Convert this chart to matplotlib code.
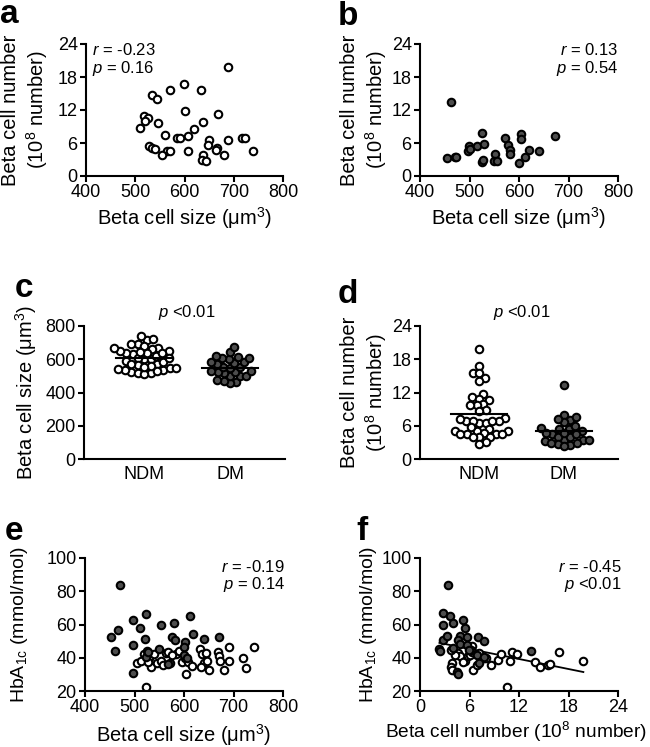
import numpy as np
import matplotlib
matplotlib.use('Agg')
import matplotlib.pyplot as plt

plt.rcParams['font.family'] = ['Liberation Sans', 'DejaVu Sans']
plt.rcParams['mathtext.fontset'] = 'custom'
plt.rcParams['mathtext.rm'] = 'Liberation Sans'
plt.rcParams['mathtext.it'] = 'Liberation Sans:italic'
plt.rcParams['mathtext.bf'] = 'Liberation Sans:bold'

# ---- data ----
# panel a: non-diabetic (NDM) donors, beta cell size vs number
ndm_size = [689, 599, 570, 633, 535, 545, 600, 668, 517, 525, 520, 547, 510, 637,
            620, 560, 585, 591, 607, 649, 689, 717, 723, 527, 533, 541, 647, 667,
            663, 565, 571, 555, 607, 637, 680, 739, 635, 643]
ndm_number = [19.8, 16.8, 15.6, 15.6, 14.7, 14.0, 11.8, 11.2, 10.9, 10.6, 10.0, 9.7,
              8.8, 9.8, 8.6, 7.4, 6.9, 6.9, 7.3, 6.5, 6.5, 6.9, 6.9, 5.4, 5.1, 5.0,
              5.7, 5.1, 4.7, 4.5, 4.5, 3.9, 4.5, 3.9, 3.9, 4.5, 3.0, 2.7]

# panel b: diabetic (DM) donors
dm_size = [463, 455, 470, 473, 498, 497, 500, 515, 525, 530, 525, 527, 551, 550,
           555, 571, 577, 581, 582, 600, 605, 605, 612, 620, 641, 672]
dm_number = [13.4, 3.2, 3.5, 3.4, 5.5, 4.6, 5.0, 5.5, 7.9, 5.9, 2.6, 2.9, 4.0, 2.7,
             2.8, 7.0, 5.6, 4.7, 4.0, 2.3, 7.6, 6.7, 3.5, 4.7, 4.5, 7.2]

# panel e: HbA1c vs beta cell size
e_ndm_size = [523, 506, 514, 519, 530, 533, 539, 545, 553, 558, 563, 568, 584, 590,
              596, 602, 605, 608, 617, 632, 636, 640, 635, 645, 646, 650, 668, 670,
              672, 681, 690, 690, 719, 725, 741, 527, 575]
e_ndm_hba = [22.6, 36.7, 37.9, 42.4, 39.9, 34.7, 42.4, 36.7, 38.1, 35.6, 42.7, 43.7,
             42.3, 44.3, 37.2, 39.7, 30.3, 37.7, 35.2, 45.1, 42.3, 36.7, 34.7, 42.7,
             38.1, 32.7, 43.3, 41.0, 38.1, 32.7, 46.7, 38.1, 40.1, 33.7, 46.7, 37.5, 41.5]
e_dm_size = [471, 524, 612, 497, 580, 553, 512, 467, 452, 521, 576, 581, 619, 641,
             670, 603, 460, 496, 599, 550, 526, 524, 571, 496, 601, 528, 567, 606]
e_dm_hba = [83.5, 66.2, 65.2, 62.8, 60.8, 59.8, 57.8, 56.4, 52.4, 51.2, 52.2, 50.8,
            54.4, 51.2, 52.2, 49.7, 44.3, 47.7, 46.7, 45.3, 44.3, 40.7, 36.7, 31.1,
            41.7, 43.5, 36.0, 40.0]

# panel f: HbA1c vs beta cell number
f_ndm_number = [3.84, 3.76, 3.84, 4.65, 4.86, 5.4, 5.8, 6.3, 6.4, 6.07, 6.9, 7.7, 8.6,
                9.5, 9.8, 10.85, 11.1, 11.8, 10.5, 13.9, 14.6, 15.5, 15.7, 16.8, 19.8,
                4.3, 5.2, 6.35, 7.1, 8.0, 3.8]
f_ndm_hba = [36.8, 34.3, 32.7, 42.8, 40.8, 38.2, 40.8, 46.9, 32.7, 41.4, 35.8, 39.8,
             35.8, 38.8, 42.2, 38.2, 43.2, 42.2, 22.6, 37.2, 34.7, 35.8, 36.4, 43.4,
             37.8, 41.6, 37.6, 43.6, 42.6, 39.6, 44.6]
f_dm_number = [3.44, 2.35, 2.83, 2.75, 2.83, 3.6, 4.05, 5.18, 5.46, 4.9, 4.57, 5.7,
               7.0, 7.7, 4.05, 4.86, 5.67, 6.2, 6.9, 7.8, 7.16, 4.45, 4.57, 13.5, 3.24,
               2.46, 5.9]
f_dm_hba = [83.8, 45.3, 50.9, 60.0, 66.7, 65.0, 61.0, 63.0, 58.0, 52.9, 50.9, 52.3,
            52.5, 49.9, 45.9, 48.5, 47.9, 44.8, 41.4, 40.2, 36.8, 31.7, 30.1, 44.2,
            52.9, 44.2, 44.6]

groups = ['NDM', 'DM']

# ---- style ----
g_open = dict(marker='o', ls='none', ms=5.4, mfc='white', mec='black', mew=1.5)
g_filled = dict(marker='o', ls='none', ms=5.4, mfc='#4d4d4d', mec='black', mew=1.5)
g_tick_size = 13
g_label_size = 14.5
g_note_size = 12
W, H = 650, 747

fig = plt.figure(figsize=(6.5, 7.47), dpi=100)


def add_ax(left, top, right, bottom):
    # pixel box -> figure fraction
    ax = fig.add_axes([left / W, 1 - bottom / H, (right - left) / W, (bottom - top) / H])
    ax.spines['top'].set_visible(False)
    ax.spines['right'].set_visible(False)
    for s in ['left', 'bottom']:
        ax.spines[s].set_linewidth(1.5)
    ax.tick_params(width=1.5, length=4, labelsize=g_tick_size, pad=2)
    ax.patch.set_alpha(0)
    ax.box_px = (left, top, right, bottom)
    return ax


def ylab(ax, text, right_px, size=g_label_size):
    # place y label so its right edge sits at right_px (figure pixels)
    l, t, r, b = ax.box_px
    ax.set_ylabel(text, fontsize=size, linespacing=1.22)
    ax.yaxis.set_label_coords((right_px - l) / (r - l), 0.5)


def letter(x, y, s):
    fig.text(x / W, 1 - y / H, s, fontsize=24, fontweight='bold', va='baseline')


def swarm_x(vals, center, ax, d_px):
    # simple beeswarm: place each point as close to the centre as it can go
    bb = ax.get_position()
    x0, x1 = ax.get_xlim()
    y0, y1 = ax.get_ylim()
    xs = bb.width * W / (x1 - x0)
    ys = bb.height * H / (y1 - y0)
    order = np.argsort(vals)
    placed = []
    out = np.zeros(len(vals))
    for i in order:
        y = vals[i] * ys
        cands = [0.0]
        for px, py in placed:
            dy = y - py
            if abs(dy) < d_px:
                dx = np.sqrt(d_px ** 2 - dy ** 2)
                cands += [px + dx, px - dx]
        cands.sort(key=abs)
        for c in cands:
            if all((c - px) ** 2 + (y - py) ** 2 >= d_px ** 2 - 1e-6 for px, py in placed):
                break
        placed.append((c, y))
        out[i] = center + c / xs
    return out


sup8 = r'(10$^{8}$ number)'
um3 = r'Beta cell size ($\mathregular{\mu m^{3}}$)'
hba = r'HbA$_{\mathregular{1c}}$ (mmol/mol)'

# ---- a ----
ax = add_ax(86, 44, 283, 176)
ax.plot(ndm_size, ndm_number, **g_open)
ax.set_xlim(400, 800)
ax.set_ylim(0, 24)
ax.set_xticks([400, 500, 600, 700, 800])
ax.set_yticks([0, 6, 12, 18, 24])
ax.set_xlabel(um3, fontsize=g_label_size, labelpad=3)
ylab(ax, 'Beta cell number\n' + sup8, 50)
ax.text(0.03, 0.915, r'$r$ = -0.23', transform=ax.transAxes, fontsize=g_note_size, va='baseline')
ax.text(0.03, 0.78, r'$p$ = 0.16', transform=ax.transAxes, fontsize=g_note_size, va='baseline')
letter(0, 23, 'a')

# ---- b ----
ax = add_ax(420, 44, 618, 176)
ax.plot(dm_size, dm_number, **g_filled)
ax.set_xlim(400, 800)
ax.set_ylim(0, 24)
ax.set_xticks([400, 500, 600, 700, 800])
ax.set_yticks([0, 6, 12, 18, 24])
ax.set_xlabel(um3, fontsize=g_label_size, labelpad=3)
ylab(ax, 'Beta cell number\n' + sup8, 389)
ax.text(1.0, 0.915, r'$r$ = 0.13', transform=ax.transAxes, fontsize=g_note_size, va='baseline', ha='right')
ax.text(1.0, 0.78, r'$p$ = 0.54', transform=ax.transAxes, fontsize=g_note_size, va='baseline', ha='right')
letter(338, 25, 'b')

# ---- c / d : scatter dot plots with mean ----
for (l, r, key) in [(84, 285, 'c'), (420, 618, 'd')]:
    ax = add_ax(l, 326, r, 459)
    ax.set_xlim(-0.7, 1.64)
    if key == 'c':
        data = [ndm_size, dm_size]
        ax.set_ylim(0, 800)
        ax.set_yticks([0, 200, 400, 600, 800])
        ylab(ax, um3, 39)
        letter(15, 297, 'c')
    else:
        data = [ndm_number, dm_number]
        ax.set_ylim(0, 24)
        ax.set_yticks([0, 6, 12, 18, 24])
        ylab(ax, 'Beta cell number\n' + sup8, 389)
        letter(338, 303, 'd')
    for k, vals in enumerate(data):
        vals = np.array(vals, dtype=float)
        xs = swarm_x(vals, k, ax, 6.6)
        ax.plot(xs, vals, **(g_open if k == 0 else g_filled), zorder=3)
        m = vals.mean()
        ax.plot([k - 0.33, k + 0.33], [m, m], color='black', lw=1.5, zorder=4)
    ax.set_xticks([0, 1])
    ax.set_xticklabels(groups)
    ax.tick_params(axis='x', length=0, pad=5)
    ax.text(0.5, ax.get_ylim()[1] * 1.07, r'$p$ <0.01', fontsize=g_note_size, ha='center', va='baseline')

# ---- e ----
ax = add_ax(85, 558, 283, 691)
ax.plot(e_ndm_size, e_ndm_hba, **g_open)
ax.plot(e_dm_size, e_dm_hba, **g_filled)
ax.set_xlim(400, 800)
ax.set_ylim(20, 100)
ax.set_xticks([400, 500, 600, 700, 800])
ax.set_yticks([20, 40, 60, 80, 100])
ax.set_xlabel(um3, fontsize=g_label_size, labelpad=4)
ylab(ax, hba, 30, 14)
ax.text(1.01, 0.895, r'$r$ = -0.19', transform=ax.transAxes, fontsize=g_note_size, va='baseline', ha='right')
ax.text(1.01, 0.77, r'$p$ = 0.14', transform=ax.transAxes, fontsize=g_note_size, va='baseline', ha='right')
letter(5, 540, 'e')

# ---- f ----
ax = add_ax(420, 558, 618, 691)
ax.plot(f_ndm_number, f_ndm_hba, **g_open)
ax.plot(f_dm_number, f_dm_hba, **g_filled)
allx = np.array(f_ndm_number + f_dm_number)
ally = np.array(f_ndm_hba + f_dm_hba)
k, b = np.polyfit(allx, ally, 1)
xx = np.array([allx.min(), allx.max()])
ax.plot(xx, k * xx + b, color='black', lw=1.3, zorder=1)
ax.set_xlim(0, 24)
ax.set_ylim(20, 100)
ax.set_xticks([0, 6, 12, 18, 24])
ax.set_yticks([20, 40, 60, 80, 100])
ax.set_xlabel(r'Beta cell number (10$^{8}$ number)', fontsize=13.8, labelpad=2)
ax.xaxis.set_label_coords(0.485, -0.215)
ax.xaxis.label.set_va('top')
ylab(ax, hba, 379, 14)
ax.text(1.02, 0.895, r'$r$ = -0.45', transform=ax.transAxes, fontsize=g_note_size, va='baseline', ha='right')
ax.text(1.02, 0.77, r'$p$ <0.01', transform=ax.transAxes, fontsize=g_note_size, va='baseline', ha='right')
letter(356, 540, 'f')

fig.savefig('out.png', dpi=100, facecolor='white')
